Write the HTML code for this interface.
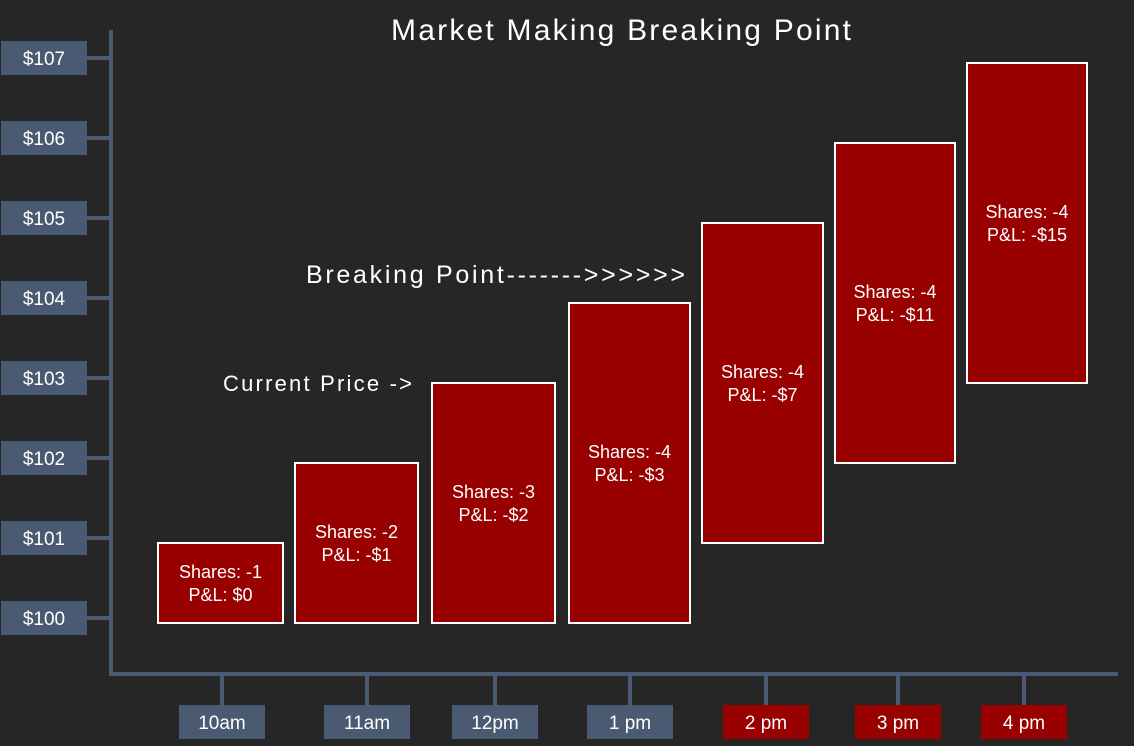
<!DOCTYPE html>
<html><head><meta charset="utf-8"><style>
body{margin:0;background:#262626;}
svg{display:block;font-family:"Liberation Sans",sans-serif;}
</style></head><body>
<svg id="c" width="1134" height="746">
<rect width="1134" height="746" fill="#262626"/>
<text x="391" y="40" fill="#fff" font-size="30" textLength="460" lengthAdjust="spacing">Market Making Breaking Point</text>
<text x="306" y="283" fill="#fff" font-size="25" textLength="379" lengthAdjust="spacing">Breaking Point-------&gt;&gt;&gt;&gt;&gt;&gt;</text>
<text x="223" y="391" fill="#fff" font-size="22" textLength="189" lengthAdjust="spacing">Current Price -&gt;</text>
<g id="axes"></g><g id="bars"></g>
</svg>
<script>
const categories=["10am","11am","12pm","1 pm","2 pm","3 pm","4 pm"];
const lows=[100,100,100,100,101,102,103];
const highs=[101,102,103,104,105,106,107];
const shares=[-1,-2,-3,-4,-4,-4,-4];
const pnl=["$0","-$1","-$2","-$3","-$7","-$11","-$15"];
const yTicks=[100,101,102,103,104,105,106,107];
const redLabels=[false,false,false,false,true,true,true];
const NS="http://www.w3.org/2000/svg";
function y(v){return 623-(v-100)*80;}
const barX=[158,295,432,569,702,835,967],barW=[125,123,123,121,121,120,120];
const tickX=[222,367,495,630,766,898,1024];
function el(t,a,p){const e=document.createElementNS(NS,t);for(const k in a)e.setAttribute(k,a[k]);p.appendChild(e);return e;}
const ax=document.getElementById('axes'),bg=document.getElementById('bars');
const axc="#4a5a72";
let l=el('line',{x1:111,y1:30,x2:111,y2:676,stroke:axc,'stroke-width':4},ax);


l=el('line',{x1:109,y1:674,x2:1118,y2:674,stroke:axc,'stroke-width':4},ax);


yTicks.forEach(v=>{
 const cy=y(v)-5;
 el('line',{x1:86,y1:cy,x2:111,y2:cy,stroke:axc,'stroke-width':4},ax);
 const r=el('rect',{x:1,y:cy-17,width:86,height:34,fill:axc},ax);
 
 
 const t=el('text',{x:44,y:cy+7,fill:'#fff','font-size':19,'text-anchor':'middle'},ax);
 t.textContent='$'+v;
 
 
});
categories.forEach((c,i)=>{
 const cx=tickX[i];
 el('line',{x1:cx,y1:674,x2:cx,y2:705,stroke:axc,'stroke-width':4},ax);
 const r=el('rect',{x:cx-43,y:705,width:86,height:34,fill:redLabels[i]?'#990000':axc},ax);
 
 
 const t=el('text',{x:cx,y:729,fill:'#fff','font-size':19,'text-anchor':'middle'},ax);
 t.textContent=c;
 
 
 const top=y(highs[i]),bot=y(lows[i]);
 const b=el('rect',{x:barX[i],y:top,width:barW[i],height:bot-top,fill:'#990000',stroke:'#fff','stroke-width':2},bg);
 
 
 const mx=barX[i]+barW[i]/2,my=(top+bot)/2;
 const t1=el('text',{x:mx,y:my-5,fill:'#fff','font-size':18,'text-anchor':'middle'},bg);
 t1.textContent='Shares: '+shares[i];
 
 
 const t2=el('text',{x:mx,y:my+18,fill:'#fff','font-size':18,'text-anchor':'middle'},bg);
 t2.textContent='P&L: '+pnl[i];
 
 
});
</script>
</body></html>
